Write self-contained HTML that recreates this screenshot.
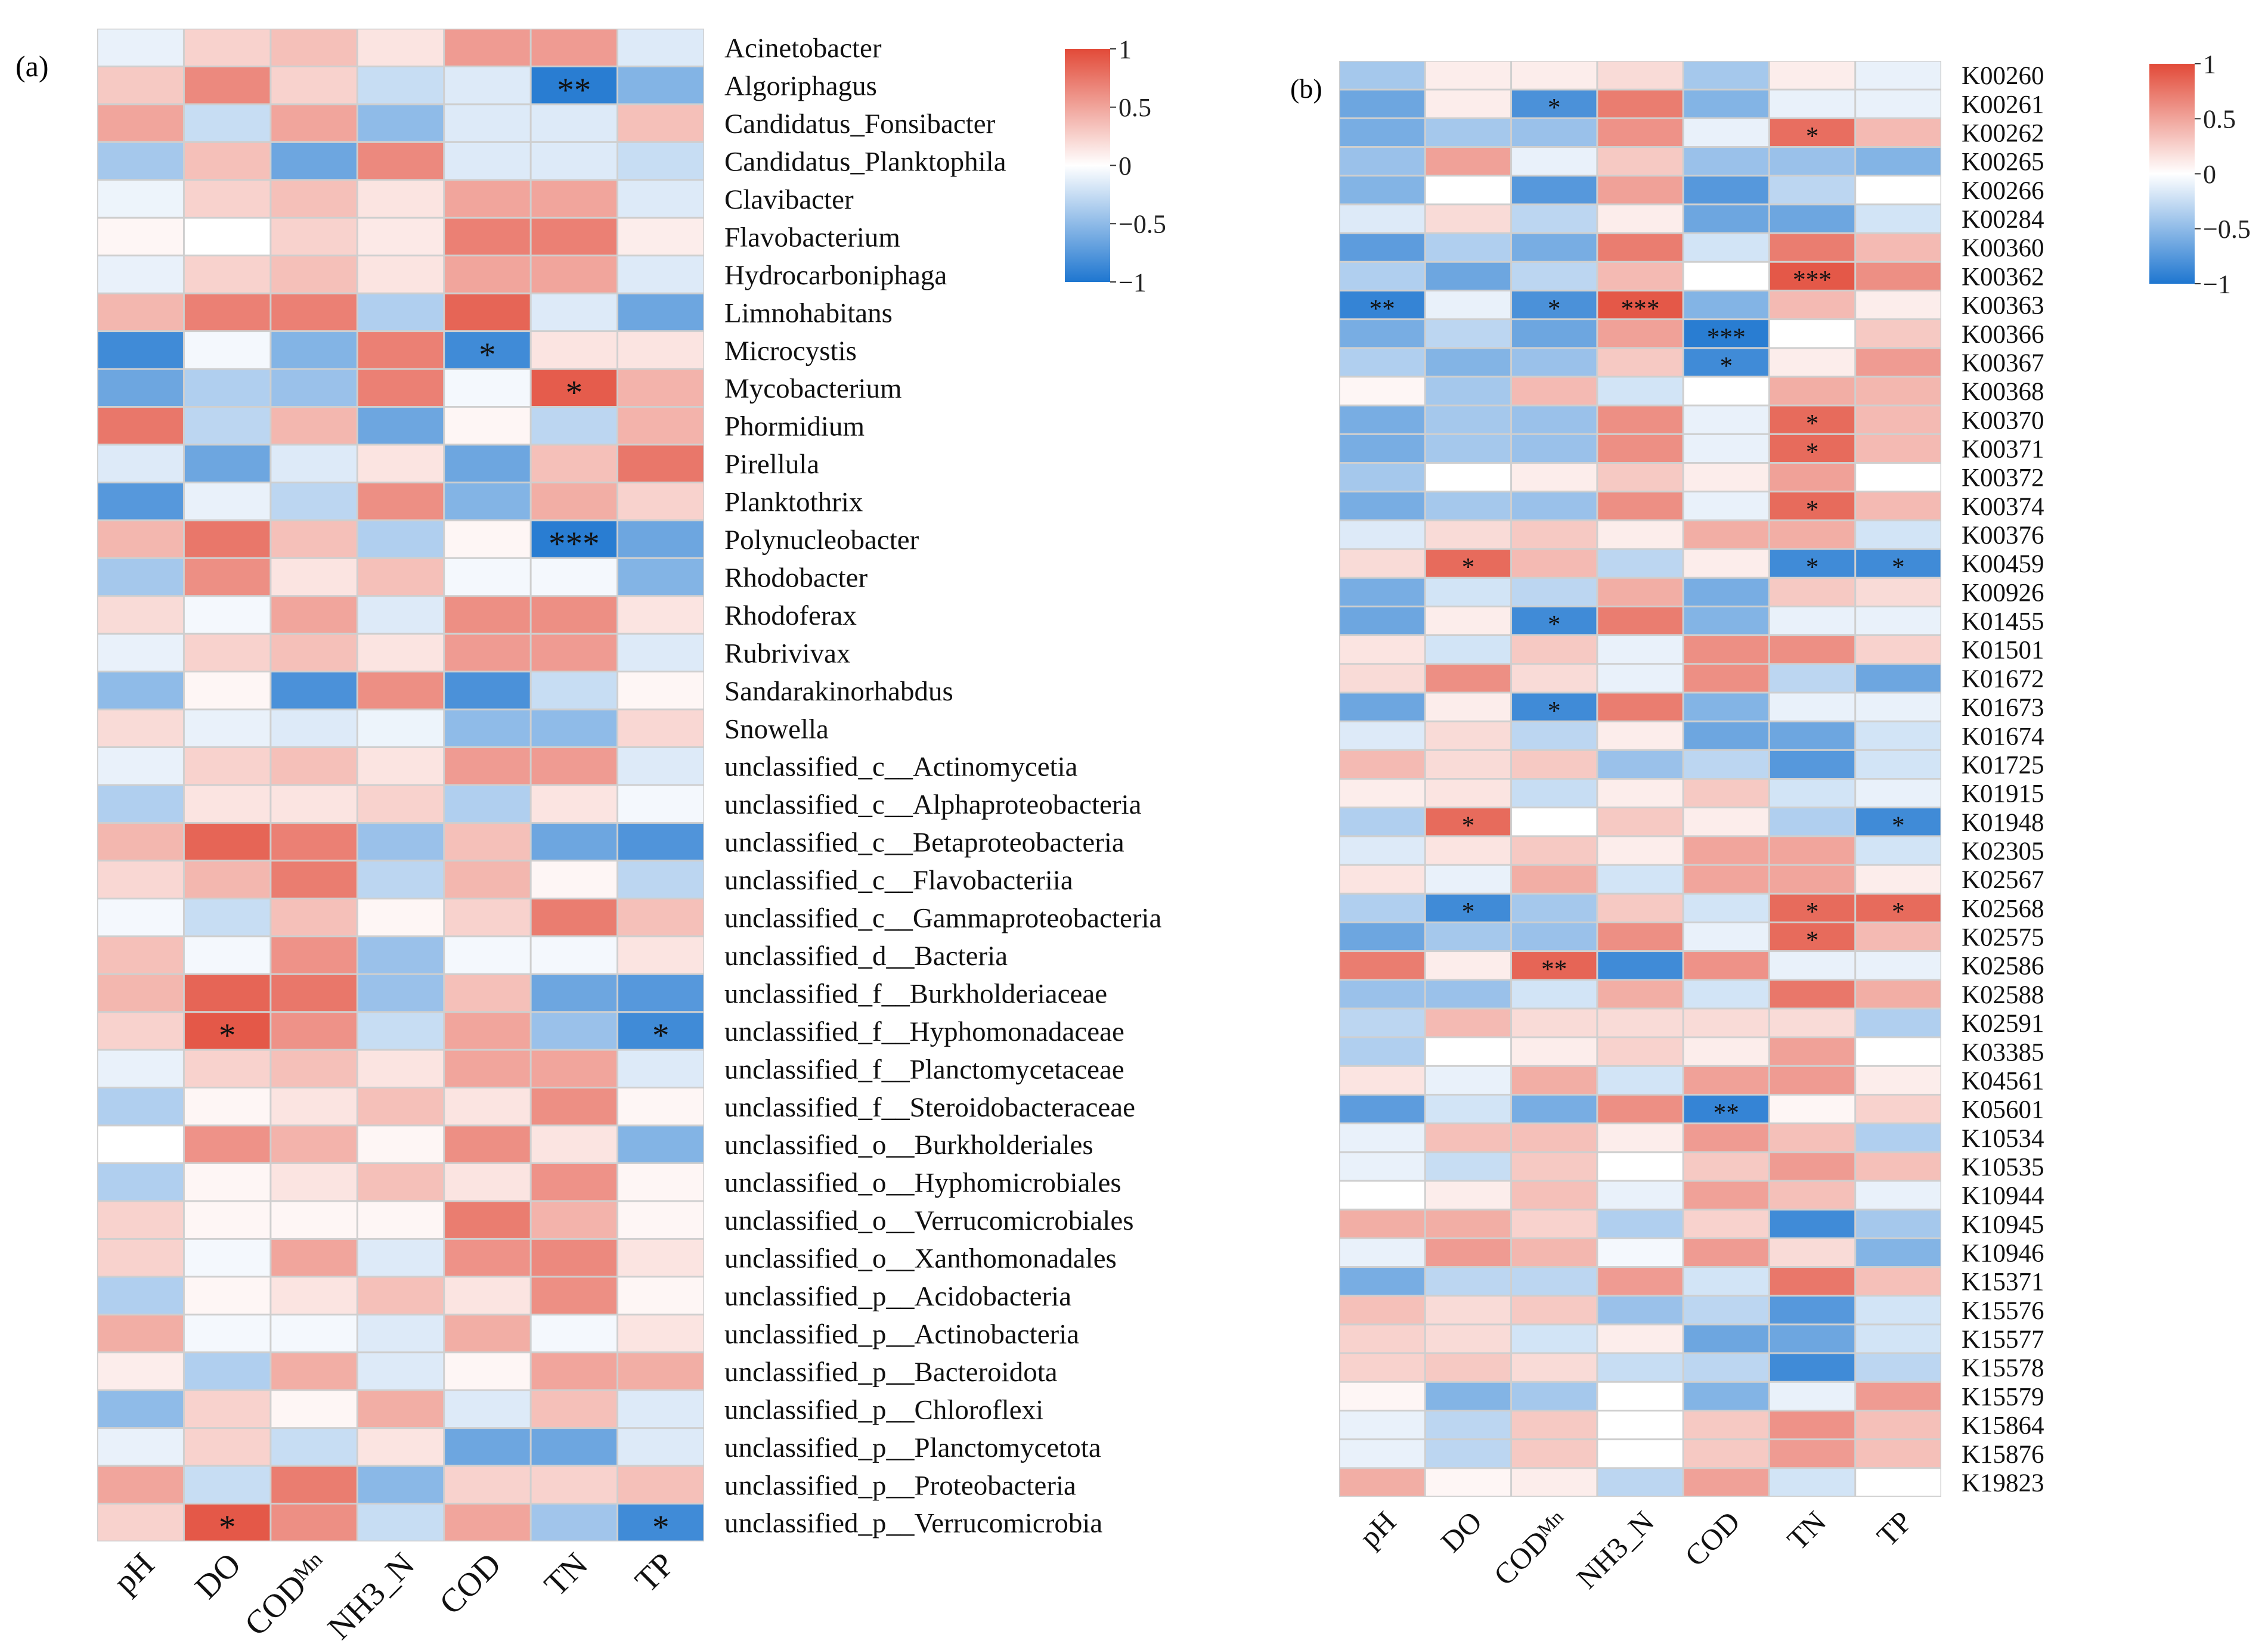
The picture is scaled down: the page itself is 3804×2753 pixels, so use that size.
<!DOCTYPE html>
<html><head><meta charset="utf-8"><style>
html,body{margin:0;padding:0;background:#fff}
svg{display:block;font-family:"Liberation Serif",serif}
</style></head><body>
<svg id="chart" width="3804" height="2753" viewBox="0 0 3804 2753" xmlns="http://www.w3.org/2000/svg" font-family="Liberation Serif, serif">
<defs>
<linearGradient id="cbar" x1="0" y1="0" x2="0" y2="1">
<stop offset="0" stop-color="rgb(226,74,56)"/><stop offset="0.5" stop-color="#ffffff"/><stop offset="1" stop-color="rgb(30,118,208)"/>
</linearGradient>
</defs>
<text x="26" y="128" font-size="50">(a)</text>
<text x="2164" y="164" font-size="46">(b)</text>
<g id="panelA"></g>
<g id="panelB"></g>
<g id="cbA"></g>
<g id="cbB"></g>
</svg>
<script>
const columns = ["pH","DO","CODMn","NH3_N","COD","TN","TP"];
const rowsA = ["Acinetobacter","Algoriphagus","Candidatus_Fonsibacter","Candidatus_Planktophila","Clavibacter","Flavobacterium","Hydrocarboniphaga","Limnohabitans","Microcystis","Mycobacterium","Phormidium","Pirellula","Planktothrix","Polynucleobacter","Rhodobacter","Rhodoferax","Rubrivivax","Sandarakinorhabdus","Snowella","unclassified_c__Actinomycetia","unclassified_c__Alphaproteobacteria","unclassified_c__Betaproteobacteria","unclassified_c__Flavobacteriia","unclassified_c__Gammaproteobacteria","unclassified_d__Bacteria","unclassified_f__Burkholderiaceae","unclassified_f__Hyphomonadaceae","unclassified_f__Planctomycetaceae","unclassified_f__Steroidobacteraceae","unclassified_o__Burkholderiales","unclassified_o__Hyphomicrobiales","unclassified_o__Verrucomicrobiales","unclassified_o__Xanthomonadales","unclassified_p__Acidobacteria","unclassified_p__Actinobacteria","unclassified_p__Bacteroidota","unclassified_p__Chloroflexi","unclassified_p__Planctomycetota","unclassified_p__Proteobacteria","unclassified_p__Verrucomicrobia"];
const valuesA = [
[-0.1,0.25,0.35,0.15,0.55,0.55,-0.15],[0.3,0.65,0.25,-0.25,-0.15,-0.95,-0.55],[0.5,-0.25,0.5,-0.5,-0.15,-0.15,0.35],[-0.4,0.35,-0.65,0.65,-0.15,-0.15,-0.25],
[-0.08,0.25,0.35,0.15,0.5,0.5,-0.15],[0.05,0,0.25,0.12,0.7,0.7,0.1],[-0.1,0.25,0.35,0.15,0.5,0.5,-0.15],[0.4,0.7,0.7,-0.35,0.85,-0.15,-0.65],
[-0.85,-0.05,-0.55,0.7,-0.85,0.15,0.15],[-0.65,-0.35,-0.45,0.7,-0.05,0.9,0.42],[0.75,-0.3,0.4,-0.65,0.05,-0.3,0.42],[-0.15,-0.65,-0.15,0.15,-0.65,0.35,0.75],
[-0.75,-0.1,-0.3,0.62,-0.55,0.45,0.25],[0.4,0.75,0.35,-0.35,0.05,-0.95,-0.65],[-0.4,0.62,0.15,0.35,-0.05,-0.05,-0.55],[0.2,-0.05,0.5,-0.15,0.62,0.62,0.15],
[-0.1,0.25,0.35,0.15,0.55,0.55,-0.15],[-0.5,0.05,-0.8,0.62,-0.8,-0.25,0.05],[0.2,-0.1,-0.15,-0.08,-0.5,-0.5,0.22],[-0.1,0.25,0.35,0.15,0.55,0.55,-0.15],
[-0.35,0.15,0.15,0.25,-0.35,0.15,-0.05],[0.4,0.85,0.7,-0.45,0.35,-0.65,-0.78],[0.22,0.4,0.72,-0.3,0.4,0.05,-0.3],[-0.05,-0.25,0.35,0.05,0.25,0.72,0.35],
[0.35,-0.05,0.6,-0.45,-0.05,-0.05,0.15],[0.4,0.85,0.75,-0.45,0.35,-0.65,-0.75],[0.25,0.92,0.6,-0.25,0.5,-0.45,-0.85],[-0.1,0.25,0.35,0.15,0.5,0.5,-0.15],
[-0.35,0.05,0.15,0.35,0.15,0.62,0.05],[0,0.6,0.42,0.05,0.62,0.15,-0.55],[-0.35,0.05,0.15,0.35,0.15,0.6,0.05],[0.25,0.05,0.05,0.05,0.72,0.42,0.05],
[0.25,-0.05,0.5,-0.15,0.6,0.65,0.15],[-0.35,0.05,0.15,0.35,0.15,0.62,0.05],[0.45,-0.05,-0.05,-0.15,0.45,-0.05,0.15],[0.1,-0.35,0.45,-0.15,0.05,0.5,0.45],
[-0.5,0.25,0.05,0.45,-0.15,0.35,-0.15],[-0.1,0.25,-0.25,0.15,-0.65,-0.65,-0.15],[0.5,-0.25,0.72,-0.52,0.25,0.25,0.35],[0.25,0.92,0.62,-0.25,0.5,-0.42,-0.85]];
const starsA = [[1,5,"**"],[8,4,"*"],[9,5,"*"],[13,5,"***"],[26,1,"*"],[26,6,"*"],[39,1,"*"],[39,6,"*"]];
const rowsB = ["K00260","K00261","K00262","K00265","K00266","K00284","K00360","K00362","K00363","K00366","K00367","K00368","K00370","K00371","K00372","K00374","K00376","K00459","K00926","K01455","K01501","K01672","K01673","K01674","K01725","K01915","K01948","K02305","K02567","K02568","K02575","K02586","K02588","K02591","K03385","K04561","K05601","K10534","K10535","K10944","K10945","K10946","K15371","K15576","K15577","K15578","K15579","K15864","K15876","K19823"];
const valuesB = [
[-0.4,0.1,0.1,0.2,-0.4,0.1,-0.1],[-0.65,0.1,-0.8,0.72,-0.55,-0.1,-0.1],[-0.6,-0.4,-0.45,0.6,-0.1,0.8,0.38],[-0.45,0.52,-0.1,0.3,-0.45,-0.45,-0.55],
[-0.55,0,-0.75,0.52,-0.75,-0.3,0],[-0.15,0.2,-0.3,0.1,-0.65,-0.65,-0.2],[-0.72,-0.35,-0.6,0.72,-0.2,0.72,0.38],[-0.35,-0.65,-0.3,0.38,0,0.92,0.62],
[-0.9,-0.1,-0.8,0.92,-0.55,0.38,0.1],[-0.6,-0.3,-0.65,0.52,-0.95,0,0.3],[-0.35,-0.55,-0.45,0.3,-0.85,0.1,0.55],[0.05,-0.4,0.38,-0.2,0,0.45,0.4],
[-0.6,-0.4,-0.45,0.62,-0.1,0.82,0.38],[-0.6,-0.4,-0.45,0.62,-0.1,0.82,0.38],[-0.4,0,0.1,0.3,0.1,0.52,0],[-0.6,-0.4,-0.45,0.62,-0.1,0.82,0.38],
[-0.15,0.2,0.3,0.1,0.45,0.45,-0.2],[0.2,0.82,0.38,-0.3,0.1,-0.85,-0.85],[-0.6,-0.2,-0.3,0.45,-0.6,0.3,0.2],[-0.65,0.1,-0.85,0.72,-0.55,-0.1,-0.1],
[0.15,-0.2,0.3,-0.1,0.62,0.62,0.25],[0.2,0.62,0.2,-0.1,0.62,-0.3,-0.65],[-0.65,0.1,-0.85,0.72,-0.55,-0.1,-0.1],[-0.15,0.2,-0.3,0.1,-0.65,-0.65,-0.2],
[0.38,0.2,0.3,-0.45,-0.3,-0.75,-0.2],[0.1,0.15,-0.25,0.1,0.3,-0.2,-0.1],[-0.35,0.82,0,0.3,0.1,-0.35,-0.85],[-0.15,0.15,0.3,0.1,0.5,0.5,-0.2],
[0.15,-0.1,0.45,-0.2,0.5,0.5,0.1],[-0.35,-0.85,-0.4,0.3,-0.2,0.82,0.82],[-0.65,-0.4,-0.45,0.62,-0.1,0.82,0.38],[0.72,0.1,0.85,-0.85,0.6,-0.1,-0.1],
[-0.45,-0.45,-0.2,0.45,-0.2,0.75,0.45],[-0.3,0.38,0.2,0.2,0.2,0.2,-0.35],[-0.35,0,0.1,0.25,0.1,0.52,0],[0.15,-0.1,0.45,-0.2,0.52,0.55,0.1],
[-0.72,-0.2,-0.6,0.62,-0.9,0.05,0.25],[-0.1,0.35,0.35,0.1,0.55,0.35,-0.35],[-0.1,-0.25,0.3,0,0.3,0.55,0.35],[0,0.1,0.35,-0.1,0.52,0.35,-0.1],
[0.45,0.45,0.25,-0.35,0.25,-0.85,-0.4],[-0.1,0.55,0.4,-0.05,0.55,0.2,-0.55],[-0.6,-0.3,-0.3,0.55,-0.2,0.75,0.35],[0.35,0.2,0.3,-0.45,-0.3,-0.75,-0.2],
[0.25,0.2,-0.2,0.1,-0.65,-0.65,-0.2],[0.25,0.3,0.2,-0.25,-0.3,-0.85,-0.3],[0.05,-0.55,-0.4,0,-0.55,-0.1,0.55],[-0.1,-0.3,0.3,0,0.3,0.6,0.35],
[-0.1,-0.3,0.3,0,0.3,0.55,0.35],[0.45,0.05,0.1,-0.3,0.52,-0.2,0]];
const starsB = [[1,2,"*"],[2,5,"*"],[7,5,"***"],[8,0,"**"],[8,2,"*"],[8,3,"***"],[9,4,"***"],[10,4,"*"],[12,5,"*"],[13,5,"*"],[15,5,"*"],[17,1,"*"],[17,5,"*"],[17,6,"*"],[19,2,"*"],[22,2,"*"],[26,1,"*"],[26,6,"*"],[29,1,"*"],[29,5,"*"],[29,6,"*"],[30,5,"*"],[31,2,"**"],[36,4,"**"]];
const cbTicks = [1,0.5,0,-0.5,-1];
const cbTickLabels = ["1","0.5","0","\u22120.5","\u22121"];

const NS="http://www.w3.org/2000/svg";
function color(v){
  v=Math.max(-1,Math.min(1,v));
  const t=Math.abs(v); const c=v>=0?[226,74,56]:[30,118,208];
  return `rgb(${Math.round(255+(c[0]-255)*t)},${Math.round(255+(c[1]-255)*t)},${Math.round(255+(c[2]-255)*t)})`;
}
function mk(tag,attrs,parent){const e=document.createElementNS(NS,tag);for(const k in attrs)e.setAttribute(k,attrs[k]);parent.appendChild(e);return e;}

function heatmap(g,rows,vals,stars,L,T,R,B,labFont,xFont,xLabY,key){
  const cw=(R-L)/columns.length, rh=(B-T)/rows.length;
  const xS=j=>L+j*cw, yS=i=>T+i*rh;
  mk('rect',{x:L,y:T,width:R-L,height:B-T,fill:'#cfcfcf'},g);
  vals.forEach((row,i)=>row.forEach((v,j)=>{
    const r=mk('rect',{x:xS(j)+1.5,y:yS(i)+1.5,width:cw-3,height:rh-3,fill:color(v)},g);
    
    
  }));
  stars.forEach(s=>{
    const t=mk('text',{x:xS(s[1])+cw/2,y:yS(s[0])+rh/2+rh*0.42,'text-anchor':'middle','font-size':rh*0.9,fill:'#111'},g);
    t.textContent=s[2];
    
    
  });
  rows.forEach((n,i)=>{
    const t=mk('text',{x:R+34,y:yS(i)+rh/2+labFont*0.35,'font-size':labFont,fill:'#111'},g);
    t.textContent=n;
    
    
  });
  columns.forEach((n,j)=>{
    const cx=xS(j)+cw/2+26, cy=xLabY;
    const t=mk('text',{x:cx,y:cy,'text-anchor':'end','font-size':xFont,fill:'#111',transform:`rotate(-45 ${cx} ${cy})`},g);
    if(n==="CODMn"){t.textContent="COD";const s=mk('tspan',{'font-size':xFont*0.65,dy:-xFont*0.25},t);s.textContent="Mn";}
    else t.textContent=n;
    
    
  });
}
function colorbar(g,x,y,w,h,font){
  mk('rect',{x:x,y:y,width:w,height:h,fill:'url(#cbar)'},g);
  const yS=v=>y+(1-v)/2*h;
  cbTicks.forEach((v,i)=>{
    mk('line',{x1:x+w,x2:x+w+10,y1:yS(v),y2:yS(v),stroke:'#333','stroke-width':2},g);
    const t=mk('text',{x:x+w+14,y:yS(v)+font*0.35,'font-size':font,fill:'#222'},g);
    t.textContent=cbTickLabels[i];
    
    
  });
}
heatmap(document.getElementById('panelA'),rowsA,valuesA,starsA,163,48,1181,2586,47,56,2628,'a');
heatmap(document.getElementById('panelB'),rowsB,valuesB,starsB,2246,102,3256,2511,43,50,2556,'b');
colorbar(document.getElementById('cbA'),1786,82,76,391,44);
colorbar(document.getElementById('cbB'),3605,107,76,369,44);
</script>
</body></html>
